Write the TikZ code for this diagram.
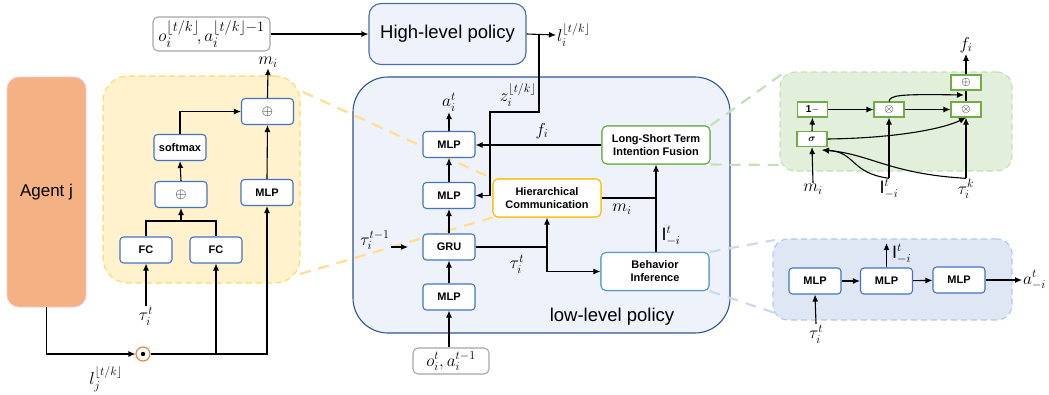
\documentclass[tikz,border=0pt]{standalone}
\usepackage{amsmath}
\usepackage{fontspec}
\setmainfont{Liberation Sans}
\usetikzlibrary{arrows.meta,calc}

\definecolor{nodeblue}{HTML}{4472C4}
\definecolor{lowfill}{HTML}{EEF2FA}
\definecolor{lowdraw}{HTML}{2F5597}
\definecolor{hlpdraw}{HTML}{4A6DB0}
\definecolor{agentfill}{HTML}{F4B183}
\definecolor{agentdraw}{HTML}{F8C8DC}
\definecolor{yfill}{HTML}{FFF2CC}
\definecolor{ydraw}{HTML}{FFD966}
\definecolor{ydash}{HTML}{FFE08A}
\definecolor{gfill}{HTML}{E2EFDA}
\definecolor{gdraw}{HTML}{C5E0B4}
\definecolor{gnode}{HTML}{70AD47}
\definecolor{bfill}{HTML}{DFE7F5}
\definecolor{bdraw}{HTML}{B4C7E7}
\definecolor{bdash}{HTML}{CCD8EE}
\definecolor{hcdraw}{HTML}{FFC000}
\definecolor{bidraw}{HTML}{5B9BD5}
\definecolor{inbox}{HTML}{A6A6A6}
\definecolor{dotdraw}{HTML}{ED7D31}

\tikzset{
  blk/.style={draw=nodeblue, line width=1.1pt, rounded corners=3.5pt, fill=white,
    minimum width=52pt, minimum height=26pt, inner sep=0pt,
    font=\fontsize{11}{13}\selectfont\bfseries},
  wideblk/.style={blk, minimum width=108pt, minimum height=38pt, align=center,
    rounded corners=5pt},
  gblk/.style={draw=gnode, line width=1.1pt, fill=white, minimum width=30pt,
    minimum height=15pt, inner sep=0pt, font=\fontsize{10}{12}\selectfont\bfseries},
  inp/.style={draw=inbox, line width=1.1pt, rounded corners=5pt, fill=white, inner sep=2pt},
  arr/.style={-{Latex[length=7pt,width=6pt]}, line width=1.1pt},
  ln/.style={line width=1.1pt},
  lbl/.style={inner sep=1pt, font=\fontsize{18}{20}\selectfont},
  region/.style={line width=1.1pt, dashed, dash pattern=on 6pt off 4pt},
  zoomline/.style={line width=2.2pt, dash pattern=on 11pt off 8pt},
}

\begin{document}
\begin{tikzpicture}[x=1pt,y=-1pt]
\useasboundingbox (0,0) rectangle (1049,394);

% ---- background regions ----
\node[draw=agentdraw, fill=agentfill, line width=0.8pt, rounded corners=12pt,
  minimum width=79pt, minimum height=230pt, font=\fontsize{17}{20}\selectfont]
  (agent) at (46.5,192) {Agent j};
\node[region, draw=ydraw, fill=yfill, rounded corners=25pt,
  minimum width=197pt, minimum height=207pt] (yreg) at (201.5,179.5) {};
\node[draw=lowdraw, fill=lowfill, line width=1.1pt, rounded corners=35pt,
  minimum width=377pt, minimum height=256pt] (low) at (541.5,205) {};
\node[region, draw=gdraw, fill=gfill, rounded corners=15pt,
  minimum width=232pt, minimum height=99pt] (greg) at (896,121.5) {};
\node[region, draw=bdraw, fill=bfill, rounded corners=15pt,
  minimum width=239pt, minimum height=81pt] (breg) at (892.5,279.5) {};

\node[font=\fontsize{18.5}{21}\selectfont] (lowlbl) at (612,317) {low-level policy};

% ---- low-level policy blocks ----
\node[wideblk, draw=hcdraw] (hc) at (547,198) {Hierarchical\\Communication};
\node[wideblk, draw=gnode] (lstif) at (656,145) {Long-Short Term\\Intention Fusion};
\node[wideblk, draw=bidraw] (bi) at (655,271.5) {Behavior\\Inference};

% ---- magnifier lines ----
\coordinate (yz1) at (303,92);
\coordinate (yz2) at (300,274);
\coordinate (gz1) at (782,74);
\coordinate (gz2) at (781,165);
\coordinate (bz1) at (775,240);
\coordinate (bz2) at (775,313);
\draw[zoomline, ydash] (yz1) -- (hc.north west);
\draw[zoomline, ydash] (yz2) -- (hc.south west);
\draw[zoomline, gdraw] (lstif.north east) -- (gz1);
\draw[zoomline, gdraw] (lstif.south east) -- (gz2);
\draw[zoomline, bdash] (bi.north east) -- (bz1);
\draw[zoomline, bdash] (bi.south east) -- (bz2);
% redraw the boxes above the lines
\node[wideblk, draw=hcdraw] at (hc) {Hierarchical\\Communication};
\node[wideblk, draw=gnode] at (lstif) {Long-Short Term\\Intention Fusion};
\node[wideblk, draw=bidraw] at (bi) {Behavior\\Inference};

% ---- high-level policy ----
\node[draw=hlpdraw, fill=lowfill, line width=1.1pt, rounded corners=12pt,
  minimum width=157pt, minimum height=61pt, font=\fontsize{18.5}{21}\selectfont]
  (hlp) at (447.5,34) {High-level policy};
\node[inp, minimum width=117pt, minimum height=34pt, font=\fontsize{19}{21}\selectfont]
  (in1) at (211.5,34) {$o_i^{\lfloor t/k\rfloor}\!,a_i^{\lfloor t/k\rfloor-1}$};
\node[lbl, anchor=west] (lhi) at (556,35) {$l_i^{\lfloor t/k\rfloor}$};
\draw[arr] (in1.east) -- (in1.east -| hlp.west);
\draw[arr] (hlp.east) -- (lhi.west);

% ---- agent-communication detail (yellow) ----
\node[blk] (soft) at (180,147.5) {softmax};
\node[blk, font=\fontsize{15}{17}\selectfont] (op1) at (267.5,111.5) {$\oplus$};
\node[blk, font=\fontsize{15}{17}\selectfont] (op2) at (181,194.5) {$\oplus$};
\node[blk] (mlpy) at (267,192.5) {MLP};
\node[blk] (fc1) at (146,250) {FC};
\node[blk] (fc2) at (216,250) {FC};
\node[lbl] (tauy) at (146,316) {$\tau_i^t$};
\node[lbl] (mtop) at (268,62) {$m_i$};
\node[circle, draw=dotdraw, fill=white, line width=1.1pt, minimum size=14pt, inner sep=0pt]
  (dot) at (143,354) {};
\fill (dot.center) circle (2.2pt);
\node[lbl] (lj) at (106,379) {$l_j^{\lfloor t/k\rfloor}$};
\coordinate (fcjoin) at (181,221);

\draw[arr] (tauy.north) -- (fc1.south);
\draw[ln] (fc1.north) |- (fcjoin) -| (fc2.north);
\draw[arr] (fcjoin) -- (op2.south);
\draw[arr] (op2.north) -- (soft.south);
\draw[arr] (soft.north) |- (op1.west);
\draw[arr] (mlpy.north) -- (op1.south);
\draw[arr] (op1.north) -- (mtop.south);
\draw[arr] (agent.south) |- (dot.west);
\draw[arr] (dot.east) -| (mlpy.south);
\draw[arr] (fc2.south |- dot) -- (fc2.south);

% ---- low-level policy stack ----
\node[blk] (mlp1) at (449,144.5) {MLP};
\node[blk] (mlp2) at (449,195.5) {MLP};
\node[blk] (gru) at (449,247) {GRU};
\node[blk] (mlp0) at (449,297) {MLP};
\node[inp, minimum width=76pt, minimum height=26pt, font=\fontsize{17}{19}\selectfont]
  (in2) at (451,361) {$o_i^t,a_i^{t-1}$};
\node[lbl] (ai) at (449,102) {$a_i^t$};
\node[lbl] (tauprev) at (375,240) {$\tau_i^{t-1}$};
\node[lbl] (taui) at (517,264) {$\tau_i^t$};
\node[lbl] (fi) at (542,131) {$f_i$};
\node[lbl] (mi) at (622,209) {$m_i$};
\node[lbl] (Ii) at (671,236) {$\mathrm{I}_{-i}^t$};
\node[lbl] (zi) at (518,95) {$z_i^{\lfloor t/k\rfloor}$};

\draw[arr] (mlp0.south |- in2.north) -- (mlp0.south);
\draw[arr] (mlp0.north) -- (gru.south);
\draw[arr] (gru.north) -- (mlp2.south);
\draw[arr] (mlp2.north) -- (mlp1.south);
\draw[arr] (mlp1.north) -- (ai.south);
\coordinate (tpe) at (408,247);
\draw[arr] (tauprev.east |- tpe) -- (tpe);

% high-level goal into the low-level policy
\coordinate (zs) at (539,34);
\coordinate (za) at (539,112);
\coordinate (zb) at (490,112);
\coordinate (zc) at (490,195.5);
\draw[arr] (zs) -- (za) -- (zb) -- (zc) -- (mlp2.east);

% GRU hidden state to communication and inference
\coordinate (gsplit) at (547,247);
\draw[ln] (gru.east) -- (gsplit);
\draw[arr] (gsplit) -- (hc.south);
\draw[arr] (gsplit) |- (bi.west);

% messages and inferred intentions to fusion
\coordinate (hj) at (656,198);
\draw[ln] (hc.east) -- (hj);
\draw[arr] (hj |- bi.north) -- (hj |- lstif.south);
\draw[arr] (lstif.west) -- (lstif.west -| mlp1.east);

% ---- fusion detail (green) ----
\node[gblk] (g1m) at (812.5,109.5) {1$-$};
\node[gblk] (gsig) at (812,139) {$\boldsymbol{\sigma}$};
\node[gblk, font=\fontsize{13}{15}\selectfont] (gx1) at (889,109.5) {$\otimes$};
\node[gblk, font=\fontsize{13}{15}\selectfont] (gx2) at (966,109.5) {$\otimes$};
\node[gblk, font=\fontsize{13}{15}\selectfont] (gp) at (966,82.5) {$\oplus$};
\node[lbl] (gf) at (966,45) {$f_i$};
\node[lbl] (gm) at (813,189) {$m_i$};
\node[lbl] (gI) at (889,189) {$\mathrm{I}_{-i}^t$};
\node[lbl] (gt) at (966,189) {$\tau_i^k$};
\coordinate (gjoin) at (964,95);

\draw[arr] (g1m.east) -- (gx1.west);
\draw[arr] (gx1.east) -- (gx2.west);
\draw[arr] (gsig.north) -- (g1m.south);
\draw[arr] (gsig.east) .. controls (900,138) and (945,128) .. (gx2.south);
\draw[arr] (gx1.north) .. controls (890,95) and (900,94) .. (gjoin);
\draw[ln] (gx2.north) -- (gp.south);
\draw[arr] (gp.north) -- (gf.south);
\draw[arr] (gm.north) -- (gsig.south);
\draw[arr] (gI.north) -- (gx1.south);
\draw[arr] (gt.north) -- (gx2.south);
\coordinate (gsin) at (822,150);
\draw[arr] (gI.north) .. controls (850,173) and (856,152) .. (gsin);
\draw[arr] (gt.north) .. controls (890,174) and (870,154) .. (gsin);

% ---- behaviour inference detail (blue) ----
\node[blk] (bm1) at (815,281) {MLP};
\node[blk] (bm2) at (886.5,281) {MLP};
\node[blk] (bm3) at (959,280) {MLP};
\node[lbl, anchor=west] (ba) at (1022,280) {$a_{-i}^t$};
\node[lbl, anchor=west] (bI) at (891,254) {$\mathrm{I}_{-i}^t$};
\node[lbl] (bt) at (816,334) {$\tau_i^t$};
\coordinate (bup) at (886.5,243);

\draw[arr] (bm1) -- (bm2);
\draw[arr] (bm2) -- (bm3);
\draw[arr] (bm3.east) -- (ba.west);
\draw[arr] (bm2.north) -- (bup);
\draw[arr] (bt.north) -- (bm1.south);
\end{tikzpicture}
\end{document}
